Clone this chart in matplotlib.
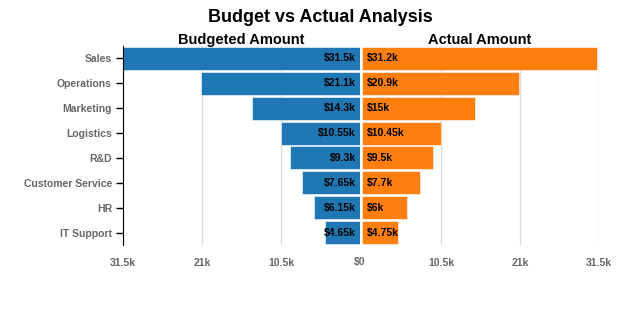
import matplotlib
matplotlib.use("Agg")
import matplotlib.pyplot as plt

plt.rcParams["font.family"] = ["Liberation Sans", "DejaVu Sans"]

departments = ["Sales", "Operations", "Marketing", "Logistics", "R&D",
               "Customer Service", "HR", "IT Support"]
budgeted = [31.5, 21.1, 14.3, 10.55, 9.3, 7.65, 6.15, 4.65]
actual = [31.2, 20.9, 15.0, 10.45, 9.5, 7.7, 6.0, 4.75]
ticks = [0, 10.5, 21, 31.5]
tick_labels = ["$0", "10.5k", "21k", "31.5k"]

blue = "#1f77b4"
orange = "#ff7f0e"
grey = "#666666"

fig = plt.figure(figsize=(6.41, 3.27), dpi=100)
W, H = 641, 327
top, bottom = 46, 245
ax_l = fig.add_axes([123 / W, (H - bottom) / H, 237 / W, (bottom - top) / H])
ax_r = fig.add_axes([362 / W, (H - bottom) / H, 237 / W, (bottom - top) / H])

def fmt(v):
    s = f"{v:.2f}".rstrip("0").rstrip(".")
    return f"${s}k"

ypos = list(range(len(departments)))

for ax, vals, col in [(ax_l, budgeted, blue), (ax_r, actual, orange)]:
    ax.barh(ypos, vals, height=0.92, color=col, edgecolor="white",
            linewidth=0.4, zorder=2)
    ax.set_xlim(0, 31.5)
    ax.set_ylim(len(departments) - 0.5, -0.5)
    ax.set_xticks(ticks)
    for t in ticks[1:]:
        ax.axvline(t, color="#dddddd", linewidth=1, zorder=1)
    for s in ["top", "right", "bottom", "left"]:
        ax.spines[s].set_visible(False)
    ax.tick_params(axis="x", length=0, pad=9, labelsize=7.5, labelcolor=grey)

ax_l.invert_xaxis()
ax_l.set_xticklabels(tick_labels, fontweight="bold")
ax_r.set_xticklabels([""] + tick_labels[1:], fontweight="bold")

# left spine sits at the 31.5k end once the x axis is inverted
ax_l.spines["left"].set_visible(True)
ax_l.set_yticks(ypos)
ax_l.set_yticklabels(departments, fontsize=7.5, color=grey, fontweight="bold")
ax_l.tick_params(axis="y", length=5, width=1, pad=3)
ax_r.set_yticks([])

for y, v in zip(ypos, budgeted):
    ax_l.text(0.6, y, fmt(v), ha="right", va="center", fontsize=7.5,
              fontweight="bold", color="black", zorder=3)
for y, v in zip(ypos, actual):
    ax_r.text(0.6, y, fmt(v), ha="left", va="center", fontsize=7.5,
              fontweight="bold", color="black", zorder=3)

fig.text(0.5, 1 - 18 / H, "Budget vs Actual Analysis", ha="center",
         va="center", fontsize=13, fontweight="bold")
fig.text(241 / W, 1 - 40 / H, "Budgeted Amount", ha="center", va="center",
         fontsize=10.5, fontweight="bold")
fig.text(480 / W, 1 - 40 / H, "Actual Amount", ha="center", va="center",
         fontsize=10.5, fontweight="bold")

fig.savefig("out.png", dpi=100)
